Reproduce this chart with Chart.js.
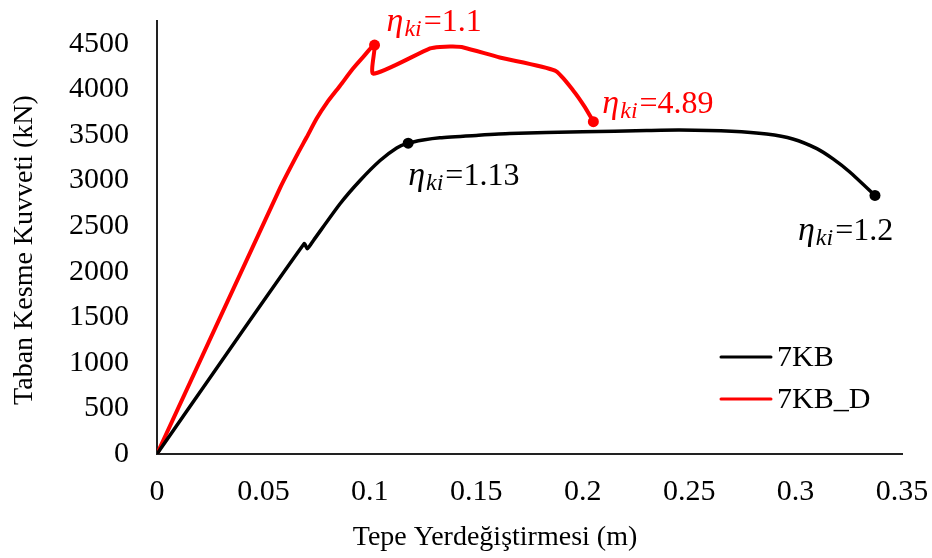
<!DOCTYPE html>
<html>
<head>
<meta charset="utf-8">
<script src="https://cdn.jsdelivr.net/npm/chart.js@4/dist/chart.umd.min.js"></script>
<style>
    body { margin: 0; background: #fff; }
    #wrap { width: 932px; height: 558px; }
</style>
</head>
<body>
<div id="wrap"><canvas id="pushoverChart"></canvas></div>
<script>
const FONT = '"Liberation Serif", "Times New Roman", serif';

// 7KB (black) curve
const blackX = [0, 0.0691, 0.0706, 0.0735, 0.086, 0.0954, 0.1048, 0.1126, 0.118, 0.125, 0.1329, 0.15, 0.1657, 0.2, 0.23, 0.2455, 0.27, 0.2864, 0.2987, 0.31, 0.3176, 0.3256, 0.3373];
const blackY = [0, 2307, 2252, 2343, 2745, 3000, 3219, 3358, 3410, 3445, 3470, 3495, 3515, 3535, 3548, 3553, 3540, 3510, 3456, 3350, 3237, 3091, 2836];
const blackMarkers = [8, 22];

// 7KB_D (red) curve
const redX = [0, 0.058, 0.066, 0.0703, 0.075, 0.0797, 0.086, 0.092, 0.097, 0.1022, 0.1016, 0.1283, 0.133, 0.139, 0.144, 0.161, 0.187, 0.1956, 0.2011, 0.205];
const redY = [0, 2927, 3290, 3474, 3680, 3850, 4040, 4225, 4360, 4486, 4172, 4450, 4466, 4470, 4460, 4350, 4205, 3986, 3803, 3646];
const redMarkers = [9, 19];

const seriesLabels = ["7KB", "7KB_D"];
const seriesColors = ["#000000", "#ff0000"];

const xTicks = [0, 0.05, 0.1, 0.15, 0.2, 0.25, 0.3, 0.35];
const xTickLabels = ["0", "0.05", "0.1", "0.15", "0.2", "0.25", "0.3", "0.35"];
const yTicks = [0, 500, 1000, 1500, 2000, 2500, 3000, 3500, 4000, 4500];

const xTitle = "Tepe Yerdeğiştirmesi (m)";
const yTitle = "Taban Kesme Kuvveti (kN)";

// eta labels: series index, point index, value text, pixel offset of text start/baseline
const etaSeries = [1, 1, 0, 0];
const etaPoint = [9, 19, 8, 22];
const etaValues = ["1.1", "4.89", "1.13", "1.2"];
const etaOffsets = [[12, -14], [9, -9], [0, 42], [-77, 45]];

function toPoints(xs, ys) {
    return xs.map((x, i) => ({ x, y: ys[i] }));
}

function markerRadius(markers) {
    return (ctx) => (markers.includes(ctx.dataIndex) ? 5.5 : 0);
}

const extras = {
    id: "extras",
    afterDraw(chart) {
        const { ctx, scales } = chart;
        ctx.save();

        // axis titles
        ctx.fillStyle = "#000";
        ctx.font = `28px ${FONT}`;
        ctx.textAlign = "center";
        ctx.textBaseline = "middle";
        ctx.fillText(xTitle, 495, 538);
        ctx.translate(25, 250);
        ctx.rotate(-Math.PI / 2);
        ctx.fillText(yTitle, 0, 0);
        ctx.setTransform(1, 0, 0, 1, 0, 0);

        // legend
        const legendY = [357, 399];
        seriesLabels.forEach((label, i) => {
            ctx.strokeStyle = seriesColors[i];
            ctx.lineWidth = 3;
            ctx.lineCap = "round";
            ctx.beginPath();
            ctx.moveTo(721, legendY[i]);
            ctx.lineTo(771, legendY[i]);
            ctx.stroke();
            ctx.fillStyle = "#000";
            ctx.font = `30px ${FONT}`;
            ctx.textAlign = "left";
            ctx.textBaseline = "middle";
            ctx.fillText(label, 777, legendY[i] + 1);
        });

        // eta annotations
        ctx.textAlign = "left";
        ctx.textBaseline = "alphabetic";
        etaValues.forEach((val, i) => {
            const s = etaSeries[i];
            const xs = s === 0 ? blackX : redX;
            const ys = s === 0 ? blackY : redY;
            const px = scales.x.getPixelForValue(xs[etaPoint[i]]);
            const py = scales.y.getPixelForValue(ys[etaPoint[i]]);
            let x = px + etaOffsets[i][0];
            const y = py + etaOffsets[i][1];
            ctx.fillStyle = seriesColors[s];
            ctx.font = `italic 34px ${FONT}`;
            ctx.fillText("η", x, y);
            x += ctx.measureText("η").width + 1;
            ctx.font = `italic 24px ${FONT}`;
            ctx.fillText("ki", x, y + 5);
            x += ctx.measureText("ki").width + 2;
            ctx.font = `32px ${FONT}`;
            ctx.fillText("=" + val, x, y);
        });

        ctx.restore();
    },
};

new Chart(document.getElementById("pushoverChart"), {
    type: "line",
    data: {
        datasets: [
            {
                label: seriesLabels[0],
                data: toPoints(blackX, blackY),
                borderColor: seriesColors[0],
                backgroundColor: seriesColors[0],
                borderWidth: 3.5,
                pointRadius: markerRadius(blackMarkers),
                pointBorderWidth: 0,
                tension: 0.2,
                fill: false,
            },
            {
                label: seriesLabels[1],
                data: toPoints(redX, redY),
                borderColor: seriesColors[1],
                backgroundColor: seriesColors[1],
                borderWidth: 4,
                pointRadius: markerRadius(redMarkers),
                pointBorderWidth: 0,
                tension: 0.2,
                fill: false,
            },
        ],
    },
    options: {
        responsive: true,
        maintainAspectRatio: false,
        animation: false,
        layout: { padding: { top: 21, right: 30, left: 0, bottom: 0 } },
        plugins: {
            legend: { display: false },
            tooltip: { enabled: false },
        },
        scales: {
            x: {
                type: "linear",
                min: 0,
                max: 0.35,
                afterBuildTicks: (scale) => { scale.ticks = xTicks.map((v) => ({ value: v })); },
                afterFit: (scale) => {
                    scale.height = 104;
                    scale.paddingLeft = 0;
                    scale.paddingRight = 0;
                },
                ticks: {
                    color: "#000",
                    font: { family: FONT, size: 30 },
                    padding: 20,
                    maxRotation: 0,
                    autoSkip: false,
                    callback: (value, index) => xTickLabels[index],
                },
                grid: { display: false, drawTicks: false },
                border: { display: true, color: "#222", width: 2 },
            },
            y: {
                type: "linear",
                min: 0,
                max: 4750,
                afterBuildTicks: (scale) => { scale.ticks = yTicks.map((v) => ({ value: v })); },
                afterFit: (scale) => {
                    scale.width = 157;
                    scale.paddingTop = 0;
                    scale.paddingBottom = 0;
                },
                ticks: {
                    color: "#000",
                    font: { family: FONT, size: 30 },
                    padding: 28,
                    autoSkip: false,
                    callback: (value) => String(value),
                },
                grid: { display: false, drawTicks: false },
                border: { display: true, color: "#222", width: 2 },
            },
        },
    },
    plugins: [extras],
});
</script>
</body>
</html>
